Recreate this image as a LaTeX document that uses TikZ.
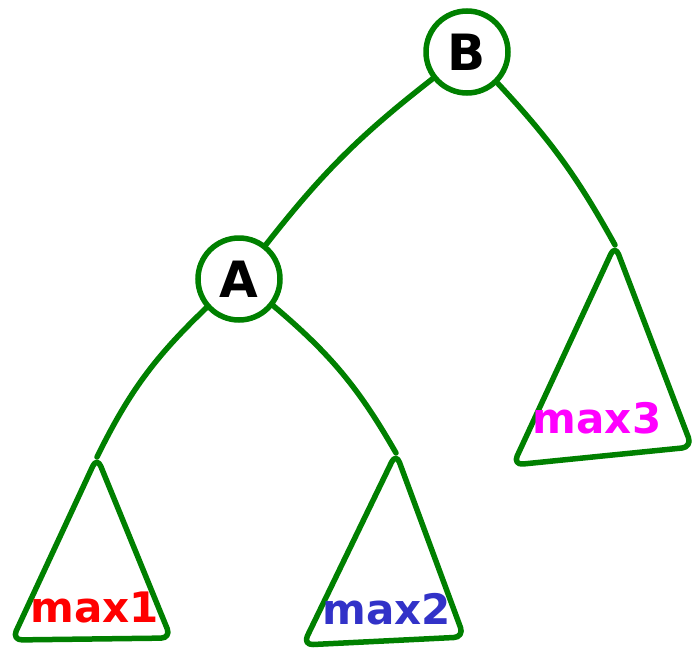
\documentclass[tikz,border=0pt]{standalone}
\usepackage{fontspec}
\setsansfont{DejaVu Sans}
\usepackage{tikz}
\usepackage{xcolor}

\definecolor{treegreen}{RGB}{0,128,0}
\definecolor{maxblue}{RGB}{50,50,200}
\definecolor{maxpink}{RGB}{255,0,255}

\begin{document}
\begin{tikzpicture}[x=1pt,y=-1pt,
    vertex/.style={draw=treegreen, line width=5.5pt, circle, minimum size=82pt, inner sep=0pt,
      font=\sffamily\bfseries\fontsize{50}{50}\selectfont},
    edge/.style={draw=treegreen, line width=5.5pt, line cap=round},
    subtree/.style={draw=treegreen, line width=5.5pt, rounded corners=10pt, line join=round},
    maxlabel/.style={font=\sffamily\bfseries\fontsize{42}{42}\selectfont}]
    \useasboundingbox (0,0) rectangle (696,656);
    \node [vertex] (B) at (467,52) {B};
    \node [vertex] (A) at (239,279) {A};
    \coordinate (T1) at (97,457);
    \coordinate (L1) at (12,640);
    \coordinate (R1) at (171,638);
    \coordinate (T2) at (396,453);
    \coordinate (L2) at (303,645);
    \coordinate (R2) at (464,637);
    \coordinate (T3) at (615,245);
    \coordinate (L3) at (513,465);
    \coordinate (R3) at (692,447);
    \draw [edge] (B) to [bend right=7] (A);
    \draw [edge] (B) to [bend left=7] (T3);
    \draw [edge] (A) to [bend right=10] (T1);
    \draw [edge] (A) to [bend left=10] (T2);
    \draw [subtree] (T1) -- (L1) -- (R1) -- cycle;
    \draw [subtree] (T2) -- (L2) -- (R2) -- cycle;
    \draw [subtree] (T3) -- (L3) -- (R3) -- cycle;
    \node [maxlabel, red] (M1) at (95,607) {max1};
    \node [maxlabel, maxblue] (M2) at (387,609) {max2};
    \node [maxlabel, maxpink] (M3) at (597,418) {max3};
  \end{tikzpicture}
\end{document}
